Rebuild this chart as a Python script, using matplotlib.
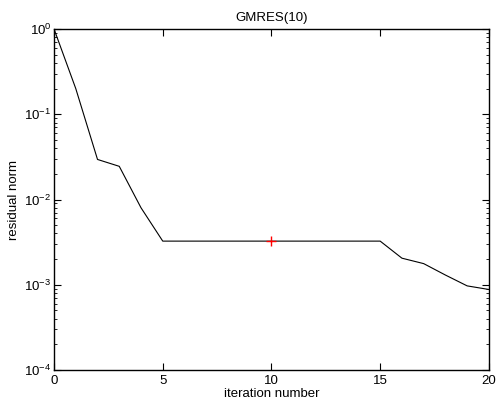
import matplotlib
matplotlib.use("Agg")
import matplotlib.pyplot as plt
from matplotlib.ticker import LogLocator, NullFormatter

# DATA
iters = [0, 1, 2, 3, 4, 5, 6, 7, 8, 9, 10, 11, 12, 13, 14, 15, 16, 17, 18, 19, 20]
resid = [1.0, 0.2, 0.0295, 0.0245, 0.008, 0.00325, 0.00325, 0.00325, 0.00325,
         0.00325, 0.00325, 0.00325, 0.00325, 0.00325, 0.00325, 0.00325,
         0.00205, 0.00177, 0.0013, 0.00097, 0.00088]
marker_x = [10]
marker_y = [0.00325]

plt.rcParams['font.family'] = ['Liberation Sans', 'DejaVu Sans']
plt.rcParams['mathtext.fontset'] = 'custom'
plt.rcParams['mathtext.rm'] = 'Liberation Sans'
plt.rcParams['mathtext.it'] = 'Liberation Sans'
plt.rcParams['font.size'] = 9.5

fig = plt.figure(figsize=(4.97, 4.05), dpi=100)
ax = fig.add_axes([0.1087, 0.0864, 0.875, 0.842])

ax.semilogy(iters, resid, color='black', linewidth=0.8)
ax.plot(marker_x, marker_y, '+', color='red', markersize=7, markeredgewidth=1.0, zorder=3)

ax.set_xlim(0, 20)
ax.set_ylim(1e-4, 1e0)
ax.set_xticks([0, 5, 10, 15, 20])
ax.yaxis.set_major_locator(LogLocator(base=10, numticks=10))
ax.yaxis.set_minor_locator(LogLocator(base=10, subs=range(2, 10), numticks=20))
ax.yaxis.set_minor_formatter(NullFormatter())

ax.tick_params(which='both', direction='in', top=True, right=True, colors='black')
ax.tick_params(which='major', length=5, width=0.8)
ax.tick_params(axis='y', which='major', pad=2)
ax.tick_params(which='minor', length=2.5, width=0.6)
for s in ax.spines.values():
    s.set_linewidth(1.0)

ax.set_title("GMRES(10)", fontsize=9.5, pad=6)
ax.set_xlabel("iteration number", labelpad=1)
ax.set_ylabel("residual norm", labelpad=3)

fig.savefig("out.png", dpi=100)
